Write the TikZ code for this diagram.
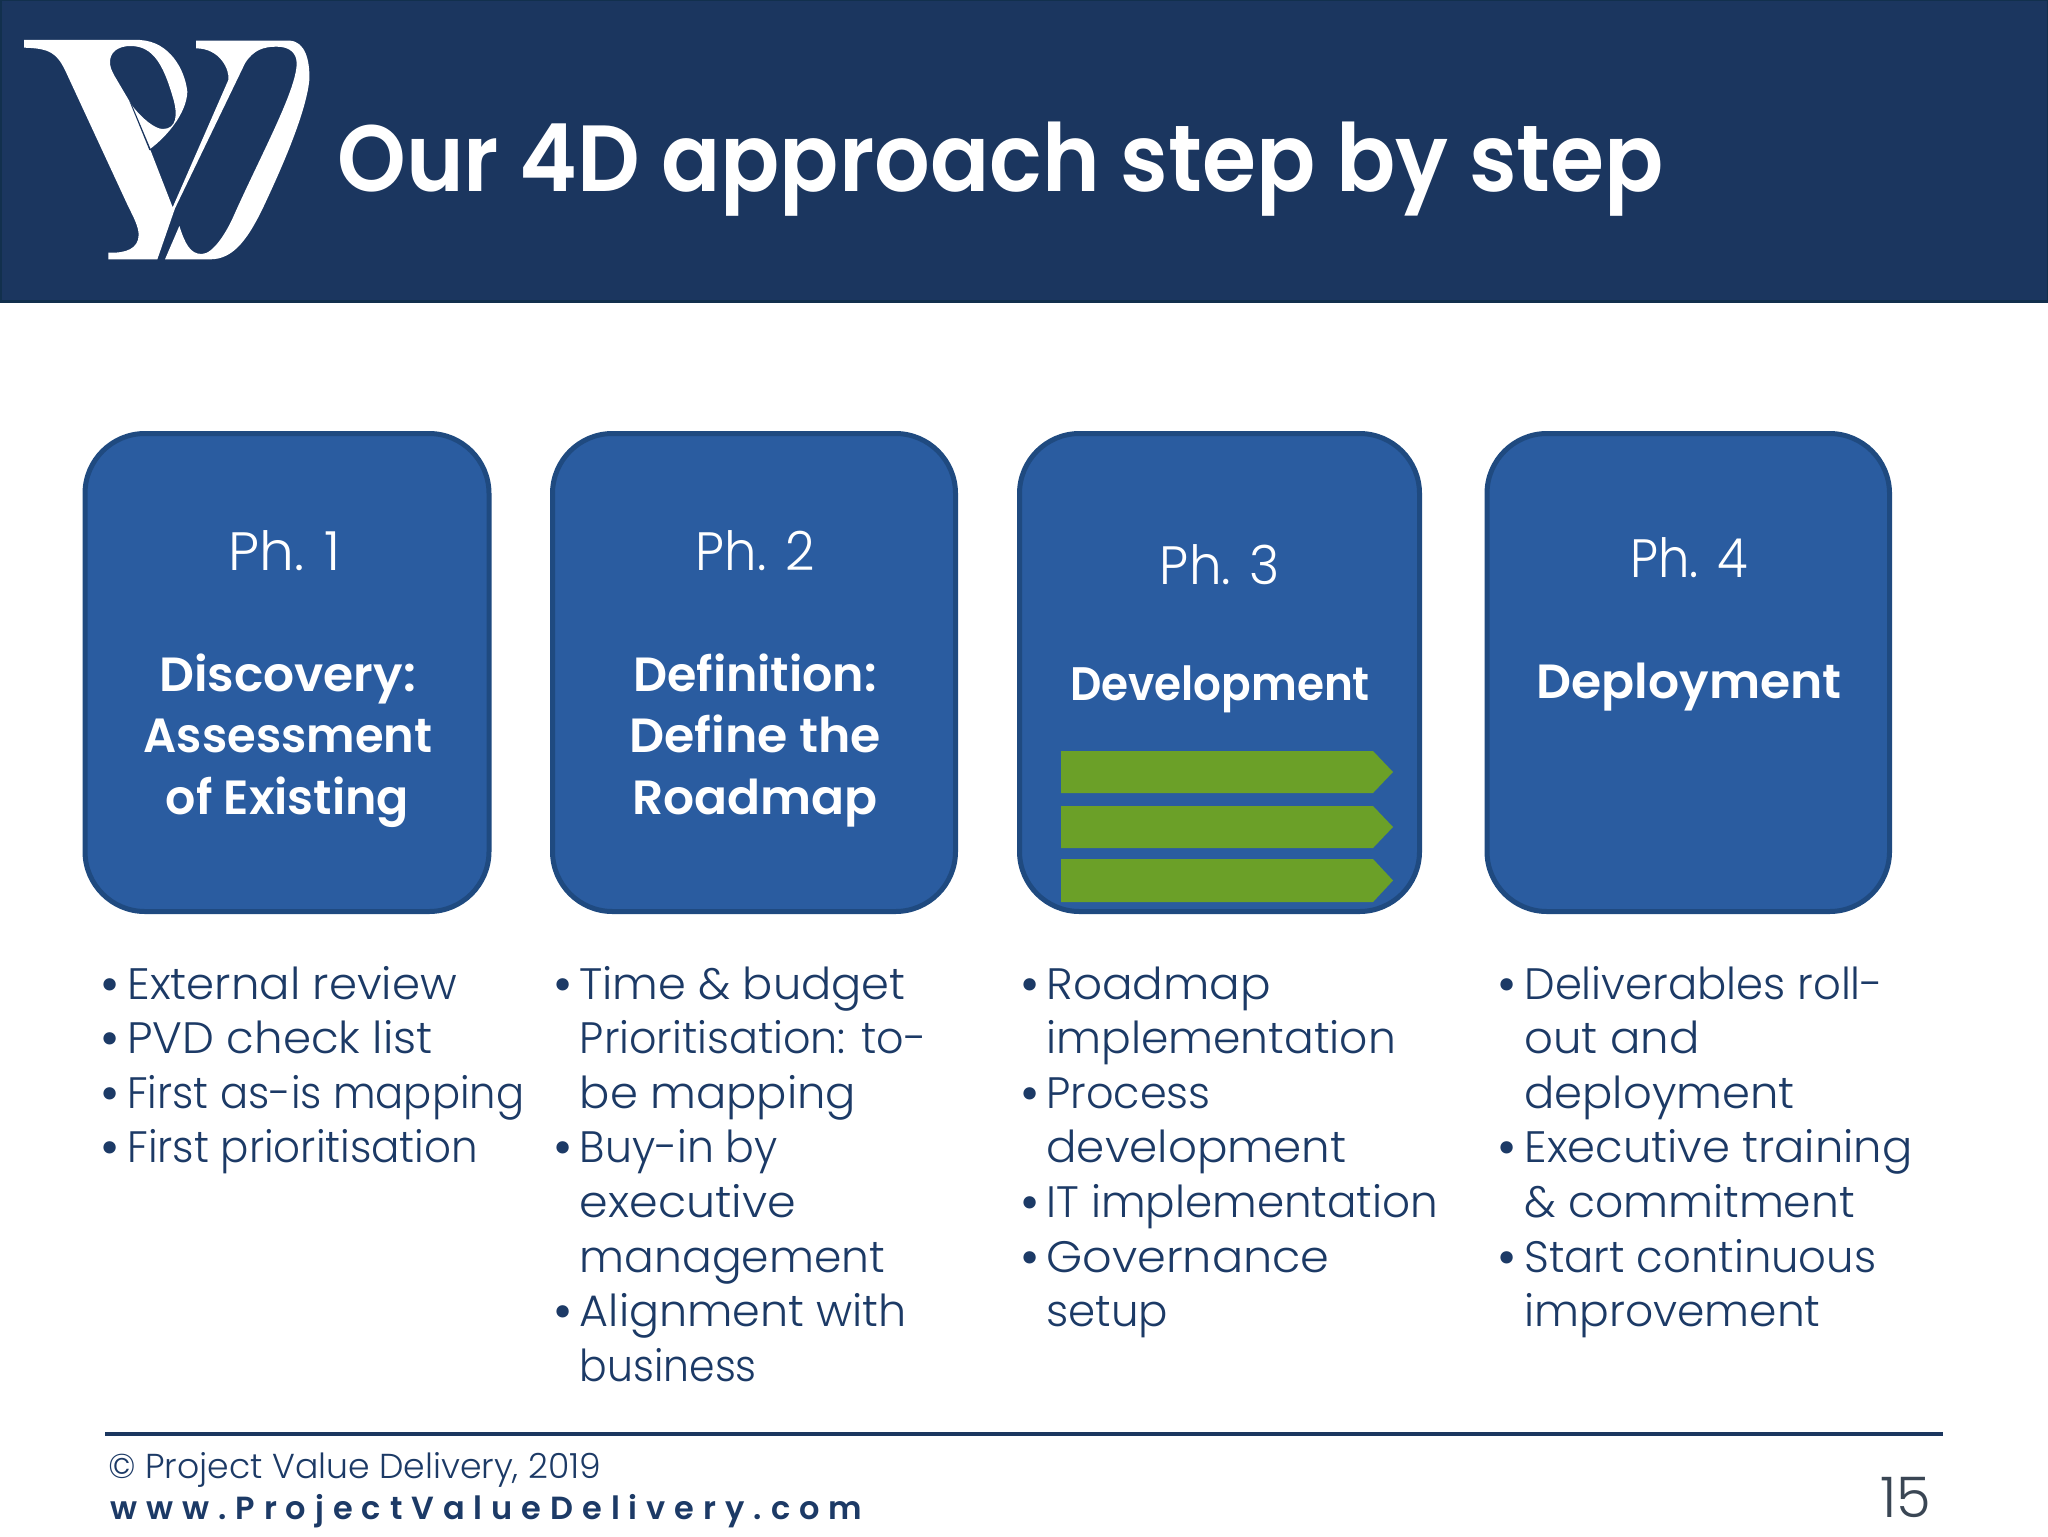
\documentclass[tikz,border=0pt]{standalone}
\usepackage{fontspec}
\setmainfont{Poppins}[UprightFont=* Light,BoldFont=* SemiBold]
\definecolor{hdr}{HTML}{1B365F}
\definecolor{hdrb}{HTML}{12304D}
\definecolor{boxf}{HTML}{2A5CA0}
\definecolor{boxb}{HTML}{1F4A80}
\definecolor{grn}{HTML}{6BA028}
\definecolor{txt}{HTML}{1C3A66}
\definecolor{num}{HTML}{3A4654}
\tikzset{
 x=0.5pt,y=-0.5pt,
 phase/.style={draw=boxb,line width=2.5pt,fill=boxf,rounded corners=30pt},
 chev/.style={fill=grn},
 ph/.style={anchor=base,text=white,inner sep=0pt,font=\fontsize{27}{27}\selectfont\addfontfeature{FakeStretch=#1}},
 ph/.default=1,
 ttl/.style={anchor=base,text=white,inner sep=0pt,font=\fontsize{24}{24}\selectfont\bfseries\addfontfeature{FakeStretch=#1}},
 ttl/.default=1,
 item/.style={anchor=base west,text=txt,inner sep=0pt,font=\fontsize{22}{22}\selectfont\addfontfeature{FakeStretch=#1}},
 item/.default=1,
 bul/.style={anchor=base,text=txt,font=\fontsize{22}{22}\selectfont\bfseries,inner sep=0pt},
}
\begin{document}
\begin{tikzpicture}
\useasboundingbox (0,0) rectangle (2048,1536);
\fill[white] (0,0) rectangle (2048,1536);
\draw[draw=hdrb,line width=1.5pt,fill=hdr] (0,0) rectangle (2048,301);
% logo
\begin{scope}[x=0.16667pt,y=-0.16667pt]
\fill[white,even odd rule]
 (72,120) -- (420,120) .. controls (510,125) and (555,210) .. (562,275)
 .. controls (560,340) and (500,410) .. (450,447) -- (518,622) -- (685,240)
 .. controls (690,210) and (660,145) .. (588,145) -- (588,122) -- (870,122)
 .. controls (915,125) and (930,180) .. (928,240)
 .. controls (920,320) and (870,450) .. (800,600)
 .. controls (745,720) and (700,778) .. (630,778) -- (495,778) -- (538,678)
 .. controls (555,730) and (570,762) .. (605,762)
 .. controls (640,762) and (680,695) .. (700,650)
 .. controls (780,470) and (890,270) .. (890,190)
 .. controls (890,160) and (870,140) .. (830,140)
 .. controls (790,140) and (760,150) .. (735,190) -- (525,625) -- (472,778) -- (325,778) -- (325,758)
 .. controls (380,760) and (415,745) .. (416,705)
 .. controls (416,680) and (400,650) .. (385,620) -- (195,210)
 .. controls (170,160) and (150,145) .. (72,143) -- cycle
 (330,185) .. controls (330,160) and (350,137) .. (395,138)
 .. controls (460,140) and (490,195) .. (518,290)
 .. controls (535,345) and (530,387) .. (488,387)
 .. controls (465,387) and (425,355) .. (395,315) -- (342,225) .. controls (334,210) and (330,200) .. (330,185) -- cycle;
\fill[hdr] (388,303) -- (396,315) -- (453,450) -- (448,450) -- cycle;
\end{scope}
\node[anchor=base west,text=white,inner sep=0pt,font=\fontsize{47}{47}\selectfont\bfseries\addfontfeature{FakeStretch=0.93}] (title) at (337,191) {Our 4D approach step by step};
% phases
\draw[phase] (85,433.5) rectangle (489,911.5);
\draw[phase] (552.5,433.5) rectangle (955.5,911.5);
\draw[phase] (1019.5,433.5) rectangle (1419.5,911.5);
\draw[phase] (1487,433.5) rectangle (1889.5,911.5);
\foreach \a/\b in {751/793,806/848,859/902}{
 \fill[chev] (1061,\a) -- (1373,\a) -- (1393,{(\a+\b)/2}) -- (1373,\b) -- (1061,\b) -- cycle;
}
\node[ph=1.02] (p1) at (285,570) {Ph. 1};
\node[ttl=1.015] (t1a) at (287.5,691) {Discovery:};
\node[ttl=0.965] (t1b) at (288,752) {Assessment};
\node[ttl=0.99] (t1c) at (287.5,814) {of Existing};
\node[ph=0.95] (p2) at (755,570) {Ph. 2};
\node[ttl=0.99] (t2a) at (755,691) {Definition:};
\node[ttl=1.02] (t2b) at (755,752) {Define the};
\node[ttl=1.015] (t2c) at (755,814) {Roadmap};
\node[ph=0.955] (p3) at (1220,584) {Ph. 3};
\node[ttl=0.93,font=\fontsize{23.5}{23.5}\selectfont\bfseries\addfontfeature{FakeStretch=0.93}] (t3a) at (1220,700.5) {Development};
\node[ph=0.92] (p4) at (1689,577) {Ph. 4};
\node[ttl=1.017] (t4a) at (1689,698) {Deployment};
% column 1
\foreach \n/\y in {0/999,1/1053.6,2/1108.2,3/1162.8}{\node[bul] (b1\n) at (110,\y) {•};}
\node[item=1.024] (a1) at (127,999) {External review};
\node[item=1.026] (a2) at (127,1053.6) {PVD check list};
\node[item=0.947] (a3) at (127,1108.2) {First as-is mapping};
\node[item=0.954] (a4) at (127,1162.8) {First prioritisation};
% column 2
\foreach \n/\y in {0/999,1/1162.8,2/1326.6}{\node[bul] (b2\n) at (563,\y) {•};}
\node[item=1.016] (c1) at (579,999) {Time \& budget};
\node[item=0.974] (c2) at (579.5,1053.6) {Prioritisation: to-};
\node[item=1.02] (c3) at (579.5,1108.2) {be mapping};
\node[item=0.968] (c4) at (579.5,1162.8) {Buy-in by};
\node[item=1.045] (c5) at (579.5,1217.4) {executive};
\node[item] (c6) at (579.5,1272) {management};
\node[item=1.01] (c7) at (579.5,1326.6) {Alignment with};
\node[item=0.93] (c8) at (579.5,1381.2) {business};
% column 3
\foreach \n/\y in {0/999,1/1108.2,2/1217.4,3/1272}{\node[bul] (b3\n) at (1030,\y) {•};}
\node[item=1.03] (d1) at (1046,999) {Roadmap};
\node[item] (d2) at (1046,1053.6) {implementation};
\node[item=0.977] (d3) at (1046,1108.2) {Process};
\node[item=1.027] (d4) at (1046,1162.8) {development};
\node[item=0.993] (d5) at (1046,1217.4) {IT implementation};
\node[item=1.05] (d6) at (1046,1272) {Governance};
\node[item=0.99] (d7) at (1046,1326.6) {setup};
% column 4
\foreach \n/\y in {0/999,1/1162.8,2/1272}{\node[bul] (b4\n) at (1507,\y) {•};}
\node[item=0.985] (e1) at (1524,999) {Deliverables roll-};
\node[item=1.023] (e2) at (1524,1053.6) {out and};
\node[item=1.02] (e3) at (1524,1108.2) {deployment};
\node[item=1.02] (e4) at (1524,1162.8) {Executive training};
\node[item] (e5) at (1524,1217.4) {\& commitment};
\node[item=0.985] (e6) at (1524,1272) {Start continuous};
\node[item] (e7) at (1524,1326.6) {improvement};
% footer
\fill[hdr] (105,1432) rectangle (1943,1436);
\node[anchor=base west,inner sep=0pt,text=txt,font=\fontsize{17.3}{17.3}\selectfont] (f1) at (108,1478.5) {© Project Value Delivery, 2019};
\node[anchor=base west,inner sep=0pt,text=txt,font=\fontsize{16}{16}\selectfont\bfseries\addfontfeature{LetterSpace=28}] (f2) at (110,1519) {www.ProjectValueDelivery.com};
\node[anchor=base,inner sep=0pt,text=num,font=\fontsize{28}{28}\selectfont] (pg) at (1906,1517.5) {15};
\end{tikzpicture}
\end{document}
